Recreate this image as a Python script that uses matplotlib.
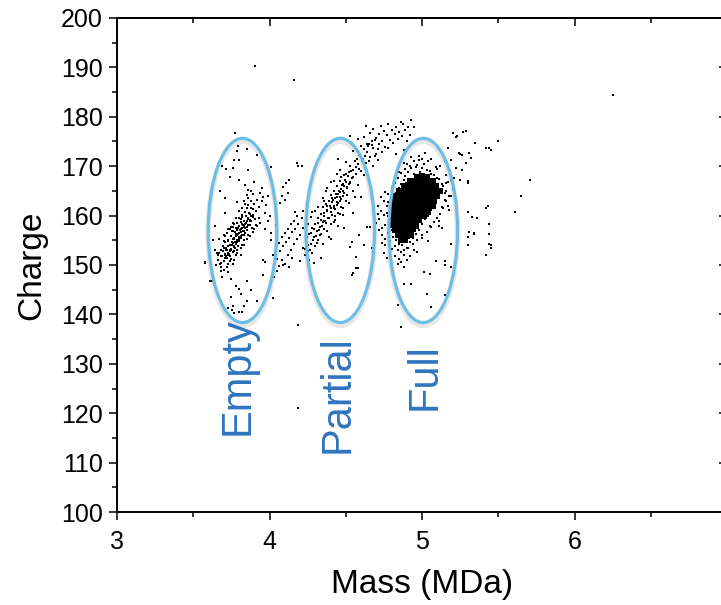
import matplotlib
matplotlib.use("Agg")
import matplotlib.pyplot as plt
import matplotlib.lines as mlines
from matplotlib.patches import Ellipse
from matplotlib.ticker import MultipleLocator, FuncFormatter

plt.rcParams['font.family'] = ['Liberation Sans', 'DejaVu Sans']

# ---------------- data (mass in MDa, charge) ----------------
empty_mass = [3.66, 3.67, 3.68, 3.68, 3.69, 3.70, 3.70, 3.71, 3.71, 3.72, 3.72, 3.73, 3.73, 3.74, 3.74,
              3.75, 3.75, 3.76, 3.76, 3.76, 3.77, 3.77, 3.78, 3.78, 3.78, 3.79, 3.79, 3.79, 3.80, 3.80,
              3.80, 3.81, 3.81, 3.81, 3.82, 3.82, 3.82, 3.83, 3.83, 3.83, 3.84, 3.84, 3.85, 3.85, 3.86,
              3.86, 3.87, 3.87, 3.88, 3.88, 3.89, 3.90, 3.91, 3.92, 3.93, 3.95, 3.94, 3.97, 3.98, 3.99,
              3.74, 3.77, 3.79, 3.81, 3.84, 3.76, 3.72, 3.70, 3.68, 3.78, 3.82, 3.86, 3.75, 3.73, 3.80,
              3.83, 3.88, 3.85, 3.90, 3.92, 3.95, 3.70, 3.67, 3.64, 3.65,
              3.774, 3.795, 3.85, 3.79, 3.92, 3.77, 3.80, 3.69, 3.715, 3.76, 3.86, 4.01, 3.74, 3.80,
              3.675, 3.86, 3.89, 3.71, 3.79, 3.645, 3.63, 3.58, 4.01, 3.96, 3.97, 3.73, 3.69, 3.85,
              3.96, 3.62, 3.80, 3.745, 3.81, 3.85, 3.92, 3.835, 3.76, 3.755, 3.80, 3.77, 3.725, 3.82,
              4.02, 3.575, 3.61, 3.75, 3.78, 3.88, 3.71, 3.84, 3.90,
              3.665, 3.675, 3.685, 3.695, 3.705, 3.715, 3.725, 3.735, 3.745, 3.755, 3.765, 3.775, 3.785,
              3.795, 3.805, 3.815, 3.825, 3.835, 3.845, 3.855, 3.865, 3.875, 3.885, 3.895, 3.905, 3.70,
              3.72, 3.74, 3.76, 3.78, 3.80, 3.82, 3.84, 3.86, 3.88, 3.73, 3.75, 3.77, 3.79, 3.81, 3.83,
              3.85, 3.87, 3.89, 3.91, 3.765, 3.785, 3.805, 3.745, 3.725, 3.795, 3.815, 3.835, 3.775,
              3.755, 3.705, 3.685, 3.655, 3.93, 3.96, 3.94, 3.97, 4.00, 3.99,
              3.712, 3.728, 3.742, 3.758, 3.772, 3.788, 3.802, 3.818, 3.832, 3.848, 3.862, 3.878,
              3.718, 3.738, 3.752, 3.768, 3.782, 3.798, 3.812, 3.828, 3.842, 3.858, 3.872, 3.892,
              3.692, 3.708, 3.762, 3.792, 3.822, 3.852]
empty_charge = [151.0, 152.5, 150.5, 153.0, 151.8, 153.5, 150.8, 152.2, 154.6, 151.5, 153.1, 155.0, 152.4, 154.0, 150.9,
                153.3, 155.8, 152.6, 154.5, 156.9, 153.7, 155.4, 157.5, 154.2, 156.3, 155.0, 158.6, 153.1, 156.5, 157.9,
                154.8, 159.3, 155.9, 157.2, 158.4, 156.1, 160.2, 157.6, 159.0, 155.0, 160.8, 158.3, 157.0, 161.5, 159.4,
                162.2, 160.4, 158.1, 161.6, 163.0, 159.8, 162.4, 160.9, 163.1, 161.8, 162.9, 158.6, 160.5, 162.1, 158.9,
                151.8, 158.2, 156.0, 153.5, 156.4, 150.2, 149.6, 149.0, 148.8, 152.0, 154.0, 156.0, 157.6, 157.3, 161.0,
                163.0, 165.0, 164.2, 157.2, 157.8, 165.5, 156.0, 155.3, 153.0, 150.0,
                176.7, 174.1, 173.5, 173.1, 172.3, 171.3, 171.3, 170.1, 169.4, 169.6, 169.2, 169.9, 167.9, 167.3,
                165.0, 165.1, 164.4, 163.5, 162.8, 157.8, 155.0, 150.7, 155.1, 151.0, 150.7, 148.6, 147.6, 146.8,
                148.0, 146.8, 145.1, 143.6, 144.2, 142.8, 142.8, 141.6, 141.6, 140.9, 140.5, 140.2, 141.3, 140.5,
                143.3, 150.4, 146.8, 147.2, 145.8, 145.0, 160.5, 166.2, 166.8,
                152.0, 150.2, 151.9, 153.8, 151.4, 153.0, 154.8, 152.2, 155.9, 154.1, 152.9, 156.6, 154.6,
                157.4, 155.6, 158.8, 156.8, 158.1, 159.9, 157.6, 160.6, 159.2, 157.4, 161.4, 159.3, 154.9,
                156.4, 157.2, 158.5, 159.6, 159.5, 161.6, 162.3, 163.5, 159.0, 150.2, 151.3, 151.0, 152.4, 152.0, 154.0,
                155.2, 155.8, 156.6, 158.0, 155.2, 157.0, 157.0, 153.0, 152.0, 153.9, 155.4, 156.0, 153.5,
                156.8, 155.8, 149.6, 152.4, 159.6, 163.8, 164.5, 157.2, 160.0, 164.0,
                151.9, 153.9, 153.1, 155.3, 154.7, 156.1, 155.3, 157.5, 156.9, 158.5, 158.1, 160.0,
                153.4, 152.9, 154.6, 153.8, 155.9, 155.6, 156.7, 158.0, 157.5, 159.5, 159.0, 160.2,
                152.8, 152.0, 157.6, 156.3, 159.8, 158.9]

bridge_mass = [4.02, 4.03, 4.04, 4.05, 4.06, 4.06, 4.07, 4.08, 4.08, 4.09, 4.10, 4.10, 4.11, 4.12, 4.12,
               4.13, 4.14, 4.14, 4.15, 4.16, 4.16, 4.17, 4.18, 4.18, 4.19, 4.20, 4.21, 4.22, 4.22, 4.24,
               4.03, 4.05, 4.13, 4.15, 4.08, 4.09, 4.10, 4.11, 4.12, 4.07, 4.13, 4.04, 4.20, 4.23, 4.01,
               4.18, 4.19, 4.09, 4.17]
bridge_charge = [152.0, 150.5, 153.6, 151.2, 154.5, 149.8, 152.8, 155.6, 151.0, 153.9, 156.4, 150.2, 154.6, 157.2, 152.0,
                 155.5, 158.3, 153.0, 156.6, 154.3, 159.0, 157.3, 155.2, 160.0, 158.4, 156.0, 159.6, 157.5, 161.0, 159.0,
                 147.5, 148.8, 149.5, 151.5, 164.0, 165.8, 163.2, 166.5, 164.6, 162.6, 167.3, 158.0, 150.8, 152.0, 156.5,
                 170.6, 170.1, 150.1, 160.8]

partial_mass = [4.22, 4.24, 4.25, 4.26, 4.27, 4.28, 4.28, 4.29, 4.30, 4.30, 4.31, 4.32, 4.32, 4.33, 4.34,
                4.34, 4.35, 4.35, 4.36, 4.36, 4.37, 4.37, 4.38, 4.38, 4.39, 4.39, 4.40, 4.40, 4.41, 4.41,
                4.42, 4.42, 4.43, 4.43, 4.44, 4.44, 4.45, 4.45, 4.46, 4.46, 4.47, 4.47, 4.48, 4.48, 4.49,
                4.49, 4.50, 4.50, 4.51, 4.52, 4.52, 4.53, 4.54, 4.55, 4.55, 4.56, 4.57, 4.58, 4.59, 4.60,
                4.61, 4.62, 4.63, 4.64, 4.65, 4.66, 4.68, 4.69, 4.70, 4.72,
                4.42, 4.44, 4.45, 4.46, 4.47, 4.48, 4.43, 4.41, 4.46, 4.49, 4.38, 4.36, 4.33, 4.31, 4.51,
                4.53, 4.50, 4.47, 4.44, 4.40, 4.37, 4.35, 4.30, 4.27, 4.34, 4.40, 4.45, 4.55, 4.60, 4.29, 4.26,
                4.53, 4.57, 4.59, 4.66, 4.58, 4.49, 4.55, 4.62, 4.67, 4.54, 4.64,
                4.235, 4.245, 4.255, 4.265, 4.275, 4.285, 4.295, 4.305, 4.315, 4.325, 4.335, 4.345, 4.355,
                4.365, 4.375, 4.385, 4.395, 4.405, 4.415, 4.425, 4.435, 4.445, 4.455, 4.465, 4.475, 4.485,
                4.495, 4.505, 4.515, 4.525, 4.535, 4.545, 4.565, 4.575, 4.585, 4.605, 4.625, 4.645, 4.675,
                4.40, 4.43, 4.48, 4.52, 4.36, 4.32, 4.42, 4.46, 4.38, 4.28, 4.25, 4.58, 4.62, 4.68, 4.71,
                4.56, 4.39, 4.35]
partial_charge = [153.5, 155.0, 152.8, 156.2, 154.3, 157.5, 152.5, 155.6, 158.2, 153.8, 156.8, 159.5, 155.0, 157.6, 160.3,
                  156.2, 158.7, 161.8, 157.3, 160.0, 162.4, 158.5, 160.9, 156.9, 163.0, 159.6, 161.5, 164.2, 160.2, 162.7,
                  158.8, 165.0, 161.3, 163.6, 162.2, 166.0, 160.6, 164.4, 162.9, 167.1, 165.3, 163.4, 166.4, 161.5, 164.6,
                  168.2, 166.8, 163.0, 165.5, 168.9, 166.3, 170.0, 167.6, 169.3, 165.0, 171.0, 168.4, 170.4, 172.2, 169.0,
                  171.5, 173.4, 170.6, 172.8, 174.5, 171.8, 173.6, 175.4, 172.5, 174.5,
                  162.0, 163.8, 162.5, 164.8, 161.8, 163.9, 160.0, 163.5, 160.3, 166.0, 162.0, 159.0, 156.0, 154.5, 164.2,
                  166.5, 168.5, 167.8, 168.5, 166.8, 165.0, 163.5, 161.0, 159.8, 151.5, 155.2, 157.8, 160.5, 163.8, 150.5, 151.0,
                  153.7, 151.7, 156.1, 157.7, 149.4, 157.4, 148.3, 154.0, 153.4, 154.6, 157.6,
                  153.2, 155.6, 154.0, 153.0, 156.4, 155.0, 157.2, 155.8, 158.6, 157.0, 159.2, 157.8, 160.5,
                  158.9, 161.1, 159.5, 162.0, 160.8, 163.1, 161.6, 164.3, 162.8, 165.0, 163.7, 166.2, 164.9,
                  167.3, 165.8, 168.0, 166.9, 169.0, 167.9, 169.8, 171.5, 169.4, 171.0, 172.0, 174.0, 175.0,
                  158.4, 159.2, 160.2, 162.5, 163.0, 161.8, 167.0, 169.2, 165.6, 160.8, 158.2, 166.2, 168.2, 170.0, 171.2,
                  163.8, 155.6, 154.3]

upper_mass = [4.60, 4.62, 4.63, 4.64, 4.66, 4.67, 4.68, 4.70, 4.71, 4.72, 4.73, 4.74, 4.75, 4.76, 4.77,
              4.78, 4.79, 4.80, 4.81, 4.82, 4.83, 4.84, 4.85, 4.86, 4.87, 4.875, 4.89, 4.90, 4.91, 4.93,
              4.95, 4.92, 4.58, 4.65, 4.69, 4.74, 4.78, 4.83, 4.88, 4.55, 4.50, 4.53, 4.45,
              5.20, 5.29, 5.22, 5.35, 5.44, 5.45, 5.50, 5.32, 5.29, 5.25, 5.22, 5.30, 5.21, 5.16, 5.15,
              5.17, 5.20, 5.16, 5.23, 5.27, 5.42, 5.31, 5.26, 5.24, 5.19, 5.26, 5.25, 5.19, 5.30, 5.12,
              5.10, 5.14]
upper_charge = [174.0, 176.0, 178.1, 174.5, 176.8, 174.3, 177.5, 175.8, 173.4, 176.6, 178.2, 175.0, 177.2, 173.8, 176.4,
                178.6, 175.3, 177.4, 174.6, 176.5, 178.0, 175.6, 177.0, 179.0, 176.2, 178.5, 177.3, 175.2, 178.0, 179.3,
                178.0, 176.4, 175.5, 171.0, 172.0, 172.8, 173.6, 172.4, 173.3, 173.0, 170.8, 176.2, 171.5,
                176.7, 177.1, 175.9, 174.6, 173.7, 173.2, 175.2, 171.7, 170.7, 172.5, 169.6, 167.0, 167.6, 168.3, 171.0,
                173.6, 165.4, 166.6, 176.1, 177.0, 173.6, 172.6, 172.3, 172.7, 171.3, 169.3, 167.2, 167.2, 166.6, 170.0,
                169.4, 172.2]

full_mass = [4.76, 4.77, 4.78, 4.78, 4.79, 4.79, 4.80, 4.80, 4.81, 4.81, 4.82, 4.83, 4.84, 4.85, 4.86,
             4.86, 4.87, 4.88, 4.88, 4.89, 4.90, 4.91, 4.92, 4.93, 4.94, 4.95, 4.96, 4.97, 4.98, 4.99,
             5.00, 5.01, 5.02, 5.03, 5.04, 5.05, 5.06, 5.07, 5.08, 5.09, 5.10, 5.11, 5.12, 5.13, 5.14,
             5.15, 5.16, 5.17, 5.18, 4.74, 4.73, 4.72, 4.75, 4.71, 4.70, 4.76, 4.98, 5.00, 4.95, 4.90,
             5.06, 5.08, 4.85, 4.90, 4.95, 5.00, 5.05, 4.88, 4.84, 4.75, 4.77, 4.76, 4.74,
             5.30, 5.33, 5.36, 5.42, 5.44, 5.30, 5.34, 5.30, 5.44, 5.42, 5.45, 5.43,
             5.09, 5.15, 5.15, 5.015, 5.05, 4.885, 4.93, 5.03, 5.15, 5.06, 4.84, 4.86, 5.19, 5.19, 5.21,
             5.31, 5.34, 5.44, 5.45, 5.11, 5.13,
             4.79, 4.78, 4.79, 4.78, 4.80, 4.82, 4.84, 4.86, 4.89, 4.92, 4.96, 5.00, 5.03, 5.06, 5.10,
             5.13, 5.15, 5.16, 5.14, 5.12, 5.10, 5.08, 5.06, 5.03, 5.00, 4.97, 4.94, 4.91, 4.88, 4.85,
             4.83, 4.81, 4.77, 4.75, 4.76, 4.81, 4.98, 5.04, 5.09, 5.17, 5.18, 5.11, 5.04, 4.97, 4.92,
             4.86, 4.82, 4.80, 4.73, 4.72, 4.71, 4.74, 5.19, 5.20, 5.02, 4.93, 4.88, 4.85]
full_charge = [158.0, 160.5, 156.5, 162.8, 159.2, 154.8, 161.5, 157.0, 155.6, 163.5, 153.8, 164.6, 153.0, 165.5, 152.6,
               166.4, 154.0, 167.2, 152.0, 168.0, 153.4, 168.8, 154.6, 169.6, 155.5, 168.5, 156.3, 170.2, 157.0, 168.9,
               158.2, 170.5, 159.4, 167.8, 160.0, 169.0, 161.2, 166.5, 162.4, 165.3, 163.6, 167.4, 164.5, 161.8, 166.0,
               163.2, 165.0, 162.0, 164.0, 157.5, 161.0, 159.3, 163.0, 162.0, 158.5, 155.2, 172.0, 171.4, 171.0, 170.4,
               171.5, 168.2, 151.3, 151.0, 153.0, 155.5, 157.8, 149.5, 150.3, 152.5, 151.5, 154.0, 156.0,
               160.8, 159.7, 159.5, 161.5, 158.4, 155.7, 156.2, 154.1, 154.3, 152.0, 153.4, 162.0,
               150.8, 150.8, 150.0, 148.5, 148.1, 146.1, 146.1, 144.1, 143.9, 141.4, 141.9, 137.5, 154.2, 149.5, 149.3,
               156.6, 156.4, 156.3, 154.1, 159.0, 157.5,
               157.8, 159.9, 161.8, 164.3, 165.5, 166.6, 167.6, 168.6, 169.4, 170.1, 169.9, 169.6, 169.3, 168.4, 167.6,
               166.4, 164.6, 163.0, 161.5, 160.4, 159.6, 158.8, 157.6, 156.6, 156.0, 155.0, 154.2, 153.5, 153.1, 154.3,
               155.0, 157.0, 162.0, 160.2, 164.8, 166.0, 171.2, 171.0, 169.8, 166.8, 161.2, 157.8, 154.9, 152.6, 151.8,
               150.6, 151.8, 153.2, 163.8, 157.0, 160.4, 154.5, 163.9, 165.8, 172.6, 171.8, 170.6, 168.9]

# dense core of the "full" population
core_mass = [4.97, 5.00, 5.03,
             4.92, 4.95, 4.98, 5.01, 5.04, 5.07,
             4.88, 4.91, 4.94, 4.97, 5.00, 5.03, 5.06, 5.09,
             4.85, 4.88, 4.91, 4.94, 4.97, 5.00, 5.03, 5.06, 5.09, 5.12,
             4.83, 4.86, 4.89, 4.92, 4.95, 4.98, 5.01, 5.04, 5.07, 5.10,
             4.81, 4.84, 4.87, 4.90, 4.93, 4.96, 4.99, 5.02, 5.05, 5.08,
             4.80, 4.83, 4.86, 4.89, 4.92, 4.95, 4.98, 5.01, 5.04, 5.07,
             4.80, 4.83, 4.86, 4.89, 4.92, 4.95, 4.98, 5.01, 5.04,
             4.80, 4.83, 4.86, 4.89, 4.92, 4.95, 4.98, 5.01,
             4.80, 4.83, 4.86, 4.89, 4.92, 4.95, 4.98,
             4.81, 4.84, 4.87, 4.90, 4.93, 4.96,
             4.82, 4.85, 4.88, 4.91, 4.94,
             4.84, 4.87, 4.90, 4.93,
             4.86, 4.89]
core_charge = [167.9, 168.1, 167.8,
               167.0, 167.1, 166.9, 167.2, 166.9, 167.0,
               166.0, 166.1, 165.9, 166.2, 166.0, 165.8, 166.1, 166.0,
               165.0, 165.1, 164.9, 165.0, 165.2, 164.9, 165.1, 165.0, 164.8, 165.0,
               164.0, 164.1, 163.9, 164.0, 164.2, 163.9, 164.1, 164.0, 163.8, 164.0,
               163.0, 163.1, 162.9, 163.0, 163.2, 162.9, 163.1, 163.0, 162.8, 163.0,
               162.0, 162.1, 161.9, 162.0, 162.2, 161.9, 162.1, 162.0, 161.8, 162.0,
               161.0, 161.1, 160.9, 161.0, 161.2, 160.9, 161.1, 161.0, 160.8,
               160.0, 160.1, 159.9, 160.0, 160.2, 159.9, 160.1, 160.0,
               159.0, 159.1, 158.9, 159.0, 159.2, 158.9, 159.1,
               158.0, 158.1, 157.9, 158.0, 158.2, 157.9,
               157.0, 157.1, 156.9, 157.0, 157.2,
               156.0, 156.1, 155.9, 156.0,
               155.0, 155.1]

outlier_mass = [3.905, 4.16, 6.25, 5.71, 5.65, 5.61, 4.19, 4.19, 4.86, 4.92, 4.21, 4.57, 4.54]
outlier_charge = [190.3, 187.4, 184.4, 167.2, 164.0, 160.7, 137.9, 121.1, 137.4, 122.8, 170.0, 149.4, 148.0]

ellipse_centers = [(3.823, 157.0), (4.464, 157.0), (5.008, 157.0)]
ellipse_width = 0.45
ellipse_height = 37.3
labels = ["Empty", "Partial", "Full"]
label_pos = [(3.79, 127.6), (4.446, 123.8), (5.016, 127.4)]

# ---------------- figure ----------------
fig = plt.figure(figsize=(7.21, 6.05), dpi=100)
ax = fig.add_axes([117 / 721, 93 / 605, 610 / 721, 494 / 605])

small = dict(marker='s', s=4.5, c='black', linewidths=0)
for mx, ch in [(empty_mass, empty_charge), (bridge_mass, bridge_charge),
               (partial_mass, partial_charge), (upper_mass, upper_charge),
               (full_mass, full_charge), (outlier_mass, outlier_charge)]:
    ax.scatter(mx, ch, **small, zorder=3)
ax.scatter(core_mass, core_charge, marker='s', s=14, c='black', linewidths=0, zorder=3)

for (cx, cy) in ellipse_centers:
    ax.add_patch(Ellipse((cx, cy - 0.6), ellipse_width, ellipse_height, fill=False,
                         edgecolor='#bbbbbb', lw=4.0, alpha=0.35, zorder=2))
    ax.add_patch(Ellipse((cx, cy), ellipse_width, ellipse_height, fill=False,
                         edgecolor='#6EBDE4', lw=2.3, zorder=4))

for lab, (lx, ly) in zip(labels, label_pos):
    ax.text(lx, ly, lab, rotation=90, ha='center', va='center',
            fontsize=30, color='#2E75BE', zorder=5)

ax.set_xlim(3, 7)
ax.set_ylim(100, 200)
ax.xaxis.set_major_locator(MultipleLocator(1))
ax.xaxis.set_minor_locator(MultipleLocator(0.5))
ax.yaxis.set_major_locator(MultipleLocator(10))
ax.yaxis.set_minor_locator(MultipleLocator(5))

for sp in ax.spines.values():
    sp.set_linewidth(1.4)

ax.tick_params(axis='both', which='major', length=6, width=1.1, labelsize=18, direction='out', pad=4)
ax.tick_params(axis='x', which='major', pad=7)
ax.tick_params(axis='both', which='minor', length=3.5, width=1.1, direction='out')
ax.tick_params(axis='x', which='both', top=True, labeltop=False)
ax.tick_params(axis='y', which='both', right=True, labelright=False)
for tick in ax.xaxis.get_major_ticks() + ax.xaxis.get_minor_ticks():
    tick.tick2line.set_marker(mlines.TICKDOWN)
for tick in ax.yaxis.get_major_ticks() + ax.yaxis.get_minor_ticks():
    tick.tick2line.set_marker(mlines.TICKLEFT)

ax.xaxis.set_major_formatter(FuncFormatter(lambda v, p: f"{int(round(v))}" if v < 6.5 else ""))

ax.set_xlabel("Mass (MDa)", fontsize=24, labelpad=11)
ax.set_ylabel("Charge", fontsize=24, labelpad=10)

fig.savefig("out.png", dpi=100)
